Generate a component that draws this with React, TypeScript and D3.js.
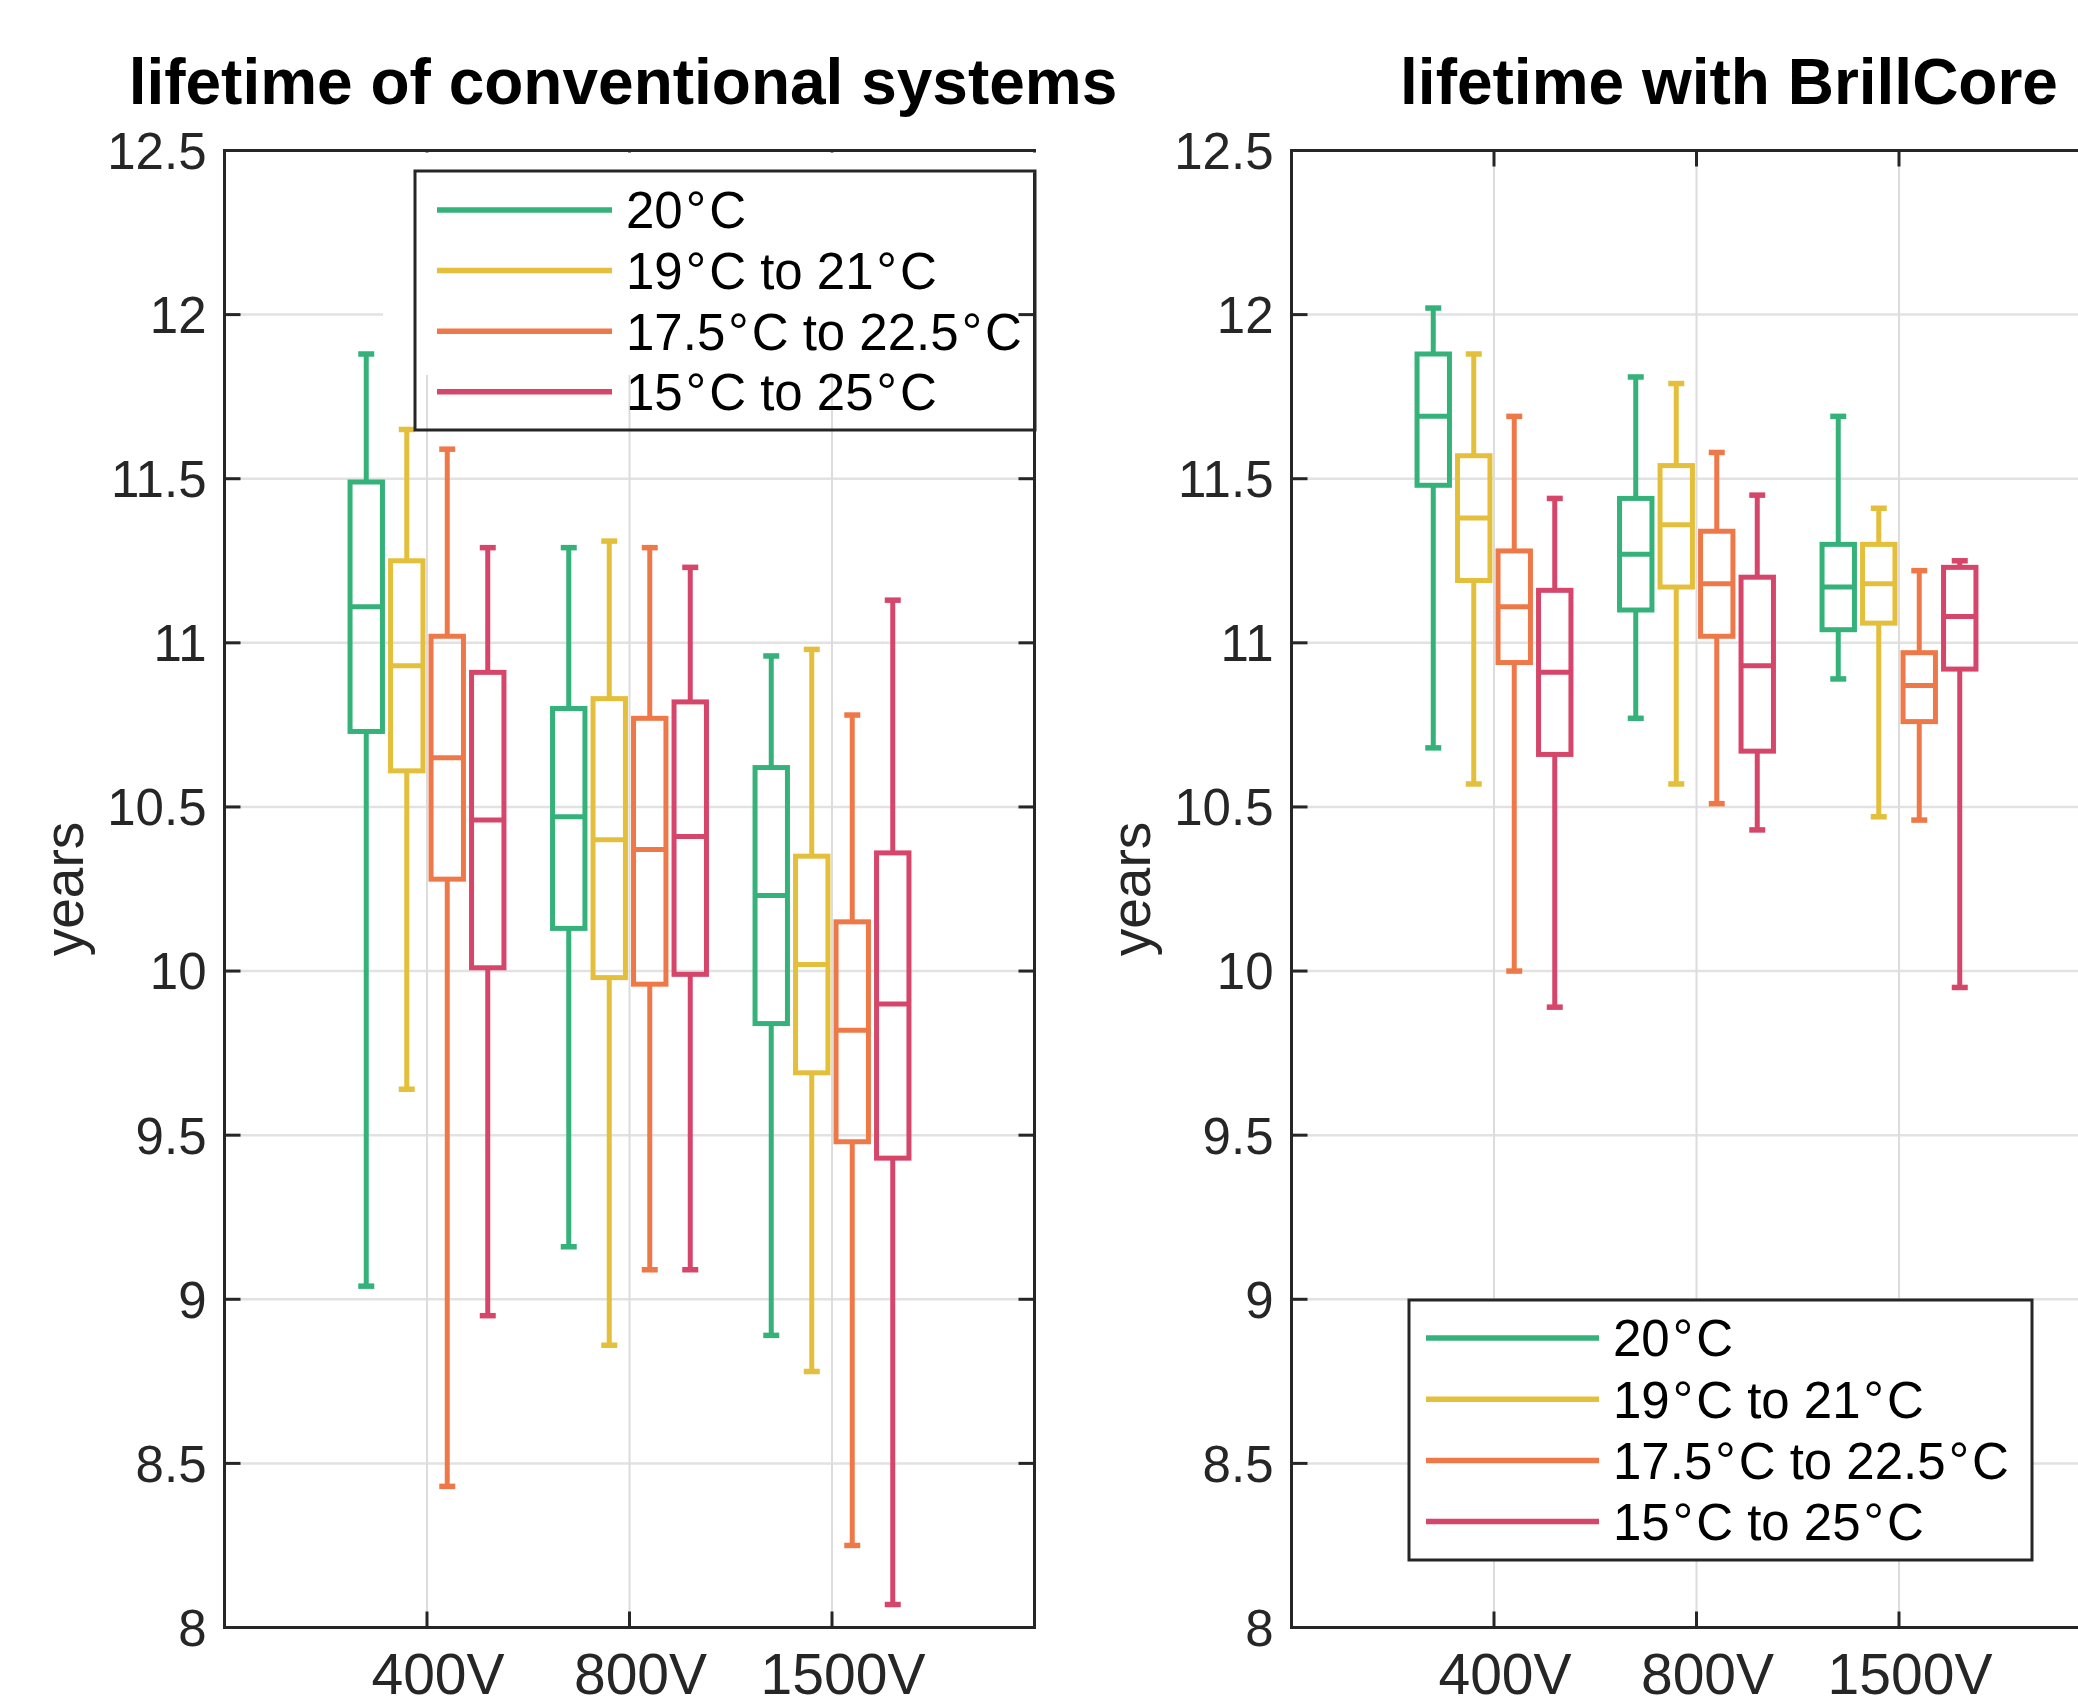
import * as d3 from "d3";

// categories and series
const categories = ["400V", "800V", "1500V"];
const seriesNames = ["20°C", "19°C to 21°C", "17.5°C to 22.5°C", "15°C to 25°C"];
const seriesColors = ["#35B17A", "#E3BF3B", "#EF7849", "#D5466A"];
const yTicks = [8, 8.5, 9, 9.5, 10, 10.5, 11, 11.5, 12, 12.5];

// box stats per category: [lower whisker, q1, median, q3, upper whisker]
const conv20 = [[9.04, 10.73, 11.11, 11.49, 11.88], [9.16, 10.13, 10.47, 10.8, 11.29], [8.89, 9.84, 10.23, 10.62, 10.96]];
const conv19to21 = [[9.64, 10.61, 10.93, 11.25, 11.65], [8.86, 9.98, 10.4, 10.83, 11.31], [8.78, 9.69, 10.02, 10.35, 10.98]];
const conv175to225 = [[8.43, 10.28, 10.65, 11.02, 11.59], [9.09, 9.96, 10.37, 10.77, 11.29], [8.25, 9.48, 9.82, 10.15, 10.78]];
const conv15to25 = [[8.95, 10.01, 10.46, 10.91, 11.29], [9.09, 9.99, 10.41, 10.82, 11.23], [8.07, 9.43, 9.9, 10.36, 11.13]];

const brill20 = [[10.68, 11.48, 11.69, 11.88, 12.02], [10.77, 11.1, 11.27, 11.44, 11.81], [10.89, 11.04, 11.17, 11.3, 11.69]];
const brill19to21 = [[10.57, 11.19, 11.38, 11.57, 11.88], [10.57, 11.17, 11.36, 11.54, 11.79], [10.47, 11.06, 11.18, 11.3, 11.41]];
const brill175to225 = [[10.0, 10.94, 11.11, 11.28, 11.69], [10.51, 11.02, 11.18, 11.34, 11.58], [10.46, 10.76, 10.87, 10.97, 11.22]];
const brill15to25 = [[9.89, 10.66, 10.91, 11.16, 11.44], [10.43, 10.67, 10.93, 11.2, 11.45], [9.95, 10.92, 11.08, 11.23, 11.25]];

const FONT = "'Liberation Sans', Arial, sans-serif";
const AXIS = "#262626";
const TOP = 150.5;
const BOTTOM = 1627.5;
const PANEL_W = 810;

const panels = [
  {
    left: 224.5,
    title: "lifetime of conventional systems",
    titleX: 623,
    data: [conv20, conv19to21, conv175to225, conv15to25],
    legend: { x: 415, y: 171, w: 620, h: 259, line0: 437, line1: 612, textX: 626, row0: 210, step: 60.6, opaque: false },
    patch: { x: 383, y: 152.5, w: 656, h: 222.5 },
  },
  {
    left: 1291.5,
    title: "lifetime with BrillCore",
    titleX: 1729,
    data: [brill20, brill19to21, brill175to225, brill15to25],
    legend: { x: 1409, y: 1300, w: 623, h: 260, line0: 1426, line1: 1599, textX: 1613, row0: 1338, step: 61.2, opaque: true },
    patch: null,
  },
];

const Label = ({ text }: { text: string }) => {
  // the degree sign is set a little apart, as in the source figure
  const parts = text.split("°");
  const out: any[] = [];
  parts.forEach((p, i) => {
    if (i > 0) {
      out.push(<tspan key={"d" + i} dx={3}>°</tspan>);
      out.push(<tspan key={"p" + i} dx={3}>{p}</tspan>);
    } else out.push(<tspan key={"p" + i}>{p}</tspan>);
  });
  return <>{out}</>;
};

const Panel = ({ p }: { p: any }) => {
  const right = p.left + PANEL_W;
  const x = d3.scaleLinear().domain([0, 4]).range([p.left, right]);
  const y = d3.scaleLinear().domain([8, 12.5]).range([BOTTOM, TOP]);
  const offset = d3.scaleBand<number>().domain(d3.range(seriesNames.length)).range([-0.4, 0.4]);
  const pxPerUnit = x(1) - x(0);
  const boxW = offset.bandwidth() * 0.8 * pxPerUnit;
  const capW = 16;
  const xt = [1, 2, 3];
  const lg = p.legend;

  return (
    <g>
      <text x={p.titleX} y={104} textAnchor="middle" fontFamily={FONT} fontWeight="bold" fontSize={64} fill="#000">
        {p.title}
      </text>

      {/* grid */}
      {yTicks.map((t) => (
        <line key={"gy" + t} x1={p.left} x2={right} y1={y(t)} y2={y(t)} stroke="#e2e2e2" strokeWidth={2.5} />
      ))}
      {xt.map((t) => (
        <line key={"gx" + t} x1={x(t)} x2={x(t)} y1={TOP} y2={BOTTOM} stroke="#dcdcdc" strokeWidth={2} />
      ))}

      {p.patch && <rect x={p.patch.x} y={p.patch.y} width={p.patch.w} height={p.patch.h} fill="#fff" />}

      {/* boxes */}
      {p.data.map((series: number[][], si: number) =>
        series.map((s, ci) => {
          const cx = x(ci + 1) + (offset(si)! + offset.bandwidth() / 2) * pxPerUnit;
          const [lo, q1, med, q3, hi] = s;
          const c = seriesColors[si];
          return (
            <g key={si + "-" + ci} stroke={c} fill="none" strokeWidth={5}>
              <line x1={cx} x2={cx} y1={y(hi)} y2={y(q3)} />
              <line x1={cx} x2={cx} y1={y(q1)} y2={y(lo)} />
              <rect x={cx - boxW / 2} y={y(q3)} width={boxW} height={y(q1) - y(q3)} />
              <line x1={cx - boxW / 2} x2={cx + boxW / 2} y1={y(med)} y2={y(med)} />
              <line x1={cx - capW / 2} x2={cx + capW / 2} y1={y(hi)} y2={y(hi)} strokeWidth={5.5} />
              <line x1={cx - capW / 2} x2={cx + capW / 2} y1={y(lo)} y2={y(lo)} strokeWidth={5.5} />
            </g>
          );
        })
      )}

      {/* axes box and ticks */}
      <rect x={p.left} y={TOP} width={PANEL_W} height={BOTTOM - TOP} fill="none" stroke={AXIS} strokeWidth={3} />
      {yTicks.map((t) => (
        <g key={"ty" + t} stroke={AXIS} strokeWidth={3}>
          <line x1={p.left} x2={p.left + 16} y1={y(t)} y2={y(t)} />
          <line x1={right - 16} x2={right} y1={y(t)} y2={y(t)} />
        </g>
      ))}
      {xt.map((t) => (
        <g key={"tx" + t} stroke={AXIS} strokeWidth={3}>
          <line x1={x(t)} x2={x(t)} y1={BOTTOM} y2={BOTTOM - 16} />
          <line x1={x(t)} x2={x(t)} y1={TOP} y2={TOP + 16} />
        </g>
      ))}
      {p.patch && <rect x={p.patch.x} y={p.patch.y} width={p.patch.w} height={20} fill="#fff" />}

      {yTicks.map((t) => (
        <text key={"ly" + t} x={p.left - 18} y={y(t)} dy="0.36em" textAnchor="end" fontFamily={FONT} fontSize={51} fill={AXIS}>
          {String(t)}
        </text>
      ))}
      {categories.map((c, i) => (
        <text key={c} x={x(i + 1) + 11} y={1694} textAnchor="middle" fontFamily={FONT} fontSize={57} fill={AXIS}>
          {c}
        </text>
      ))}
      <text
        transform={`translate(${p.left - 142},${(TOP + BOTTOM) / 2}) rotate(-90)`}
        textAnchor="middle"
        fontFamily={FONT}
        fontSize={55}
        fill={AXIS}
      >
        years
      </text>

      {/* legend */}
      <rect x={lg.x} y={lg.y} width={lg.w} height={lg.h} fill={lg.opaque ? "#fff" : "none"} stroke={AXIS} strokeWidth={3} />
      {seriesNames.map((n, i) => {
        const ly = lg.row0 + i * lg.step;
        return (
          <g key={n}>
            <line x1={lg.line0} x2={lg.line1} y1={ly} y2={ly} stroke={seriesColors[i]} strokeWidth={5.5} />
            <text x={lg.textX} y={ly} dy="0.36em" fontFamily={FONT} fontSize={51} fill="#000">
              <Label text={n} />
            </text>
          </g>
        );
      })}
    </g>
  );
};

export default function App() {
  return (
    <svg
      width={2078}
      height={1700}
      viewBox="0 0 2078 1700"
      style={{ position: "absolute", left: 0, top: 0, background: "#fff" }}
    >
      <rect width={2078} height={1700} fill="#fff" />
      {panels.map((p) => (
        <Panel key={p.title} p={p} />
      ))}
    </svg>
  );
}
